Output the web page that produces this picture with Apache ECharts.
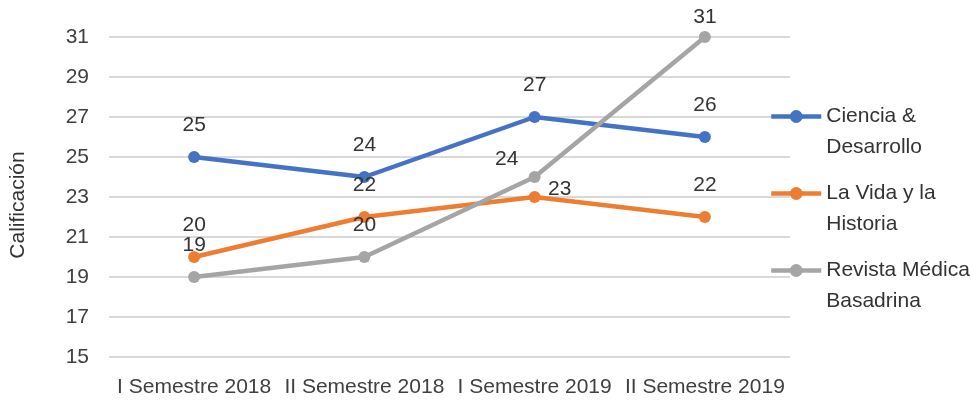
<!DOCTYPE html>
<html><head><meta charset="utf-8">
<script src="https://cdn.jsdelivr.net/npm/echarts@6/dist/echarts.min.js"></script>
<style>html,body{margin:0;padding:0;background:#fff}#c{width:973px;height:400px}</style>
</head><body><div id="c"></div>
<script>
const categories = ['I Semestre 2018', 'II Semestre 2018', 'I Semestre 2019', 'II Semestre 2019'];
const ciencia = [25, 24, 27, 26];
const laVida = [20, 22, 23, 22];
const revista = [19, 20, 24, 31];
const seriesNames = ['Ciencia & Desarrollo', 'La Vida y la Historia', 'Revista Médica Basadrina'];
const legendText = {
  'Ciencia & Desarrollo': '\nCiencia &\nDesarrollo',
  'La Vida y la Historia': '\nLa Vida y la\nHistoria',
  'Revista Médica Basadrina': '\nRevista Médica\nBasadrina'
};
const FONT = 'Liberation Sans';
const chart = echarts.init(document.getElementById('c'));
function mk(name, data, color, labelCfg) {
  return {
    name, type: 'line', data: data.map((v, i) => {
      const o = { value: v };
      if (labelCfg && labelCfg[i]) o.label = labelCfg[i];
      return o;
    }),
    color, lineStyle: { width: 4.5, color }, itemStyle: { color },
    symbol: 'circle', symbolSize: 12, clip: false,
    label: { show: true, position: 'top', distance: 15, color: '#333333', fontSize: 21, fontFamily: FONT },
    emphasis: { disabled: true }, animation: false
  };
}
chart.setOption({
  animation: false,
  grid: { left: 106, right: 183, top: 37, bottom: 43 },
  xAxis: {
    type: 'category', data: categories, boundaryGap: true,
    axisLine: { show: false }, axisTick: { show: false },
    axisLabel: { color: '#404040', fontSize: 21, fontFamily: FONT, margin: 20, interval: 0 }
  },
  yAxis: {
    type: 'value', min: 15, max: 31, interval: 2,
    name: 'Calificación', nameLocation: 'middle', nameGap: 80,
    nameTextStyle: { color: '#333333', fontSize: 21, fontFamily: FONT, padding: [0, 16, 0, 0] },
    axisLine: { show: false }, axisTick: { show: false },
    axisLabel: { color: '#404040', fontSize: 21, fontFamily: FONT, margin: 20 },
    splitLine: { lineStyle: { color: '#d9d9d9', width: 2 } }
  },
  legend: {
    orient: 'vertical', left: 769, top: 70, padding: 0, itemGap: -16,
    itemWidth: 50, itemHeight: 16,
    lineStyle: { width: 4.5 },
    data: seriesNames,
    formatter: n => legendText[n],
    textStyle: { color: '#333333', fontSize: 21, fontFamily: FONT, lineHeight: 31 }
  },
  series: [
    mk(seriesNames[0], ciencia, '#4472C4'),
    mk(seriesNames[1], laVida, '#ED7D31', { 2: { offset: [25, 24] } }),
    mk(seriesNames[2], revista, '#A5A5A5', { 2: { offset: [-28, 14] }, 3: { distance: 3 } })
  ]
});
</script></body></html>
